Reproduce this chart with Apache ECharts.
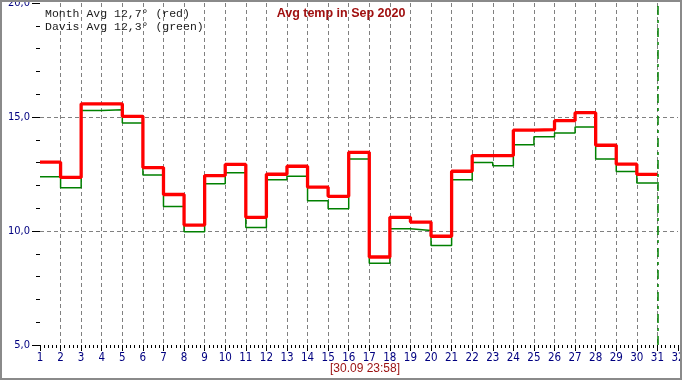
<!DOCTYPE html>
<html>
<head>
<meta charset="utf-8">
<script src="https://cdn.jsdelivr.net/npm/echarts@6/dist/echarts.min.js"></script>
<style>
html,body{margin:0;padding:0;background:#fff;}
#c{width:682px;height:380px;}
</style>
</head>
<body>
<div id="c"></div>
<script>
const days = [1,2,3,4,5,6,7,8,9,10,11,12,13,14,15,16,17,18,19,20,21,22,23,24,25,26,27,28,29,30];
const monthAvg = [13.02,12.35,15.58,15.58,15.03,12.78,11.60,10.26,12.43,12.92,
                  10.60,12.49,12.84,11.92,11.52,13.45,8.86,10.60,10.39,9.77,
                  12.62,13.31,13.31,14.42,14.45,14.84,15.19,13.76,12.93,12.48];
const davisAvg = [12.38,11.90,15.28,15.32,14.74,12.46,11.07,9.97,12.07,12.55,
                  10.15,12.25,12.40,11.33,10.98,13.16,8.59,10.10,10.02,9.36,
                  12.25,13.00,12.86,13.78,14.13,14.30,14.56,13.16,12.61,12.11];
const titleText = 'Avg temp in Sep 2020';
const stampText = '[30.09 23:58]';
const markerDay = 31;
const yTicks = [5, 20, 5]; // min, max, interval

function avg(a){ return a.reduce((s,v)=>s+v,0)/a.length; }
function fmt(v){ return v.toFixed(1).replace('.', ','); }
function stepData(vals){
  const d = days.map((x,i)=>[x, vals[i]]);
  d.push([days[days.length-1]+1, vals[vals.length-1]]);
  return d;
}

const narrow = '"Liberation Sans Narrow","Arial Narrow","DejaVu Sans Condensed",sans-serif';
const chart = echarts.init(document.getElementById('c'), null, {renderer:'canvas'});
chart.setOption({
  animation:false,
  backgroundColor:'#fff',
  title:{
    text:titleText, left:'center', top:2,
    textStyle:{fontFamily:'"Liberation Sans",Arial,sans-serif', fontSize:12.5, fontWeight:'bold', color:'#a01010'}
  },
  grid:{left:40, right:4, top:3, bottom:35, containLabel:false, outerBoundsMode:'none'},
  xAxis:{
    type:'value', min:1, max:32, interval:1,
    axisLine:{show:false},
    axisTick:{show:true, length:6, lineStyle:{color:'#000', width:1}},
    minorTick:{show:true, splitNumber:5, length:3, lineStyle:{color:'#000', width:1}},
    axisLabel:{color:'#000080', fontFamily:narrow, fontSize:11.5, margin:7, showMaxLabel:true},
    splitLine:{show:true, showMinLine:false, showMaxLine:false, lineStyle:{color:'#808080', type:[4,3], width:1}},
    minorSplitLine:{show:false}
  },
  yAxis:{
    type:'value', min:yTicks[0], max:yTicks[1], interval:yTicks[2],
    axisLine:{show:false},
    axisTick:{show:true, length:8, lineStyle:{color:'#000', width:1}},
    minorTick:{show:true, splitNumber:5, length:4, lineStyle:{color:'#000', width:1}},
    axisLabel:{color:'#000080', fontFamily:narrow, fontSize:11, margin:10, formatter:v=>fmt(v)},
    splitLine:{show:true, showMinLine:false, showMaxLine:false, lineStyle:{color:'#808080', type:[4,3], width:1}},
    name:'°C', nameLocation:'middle', nameGap:30, nameRotate:90,
    nameTextStyle:{color:'#8b0000', fontFamily:'"Liberation Sans",Arial,sans-serif', fontSize:11}
  },
  series:[
    {
      type:'line', step:'end', data:stepData(davisAvg), symbol:'none', z:2,
      lineStyle:{color:'#008000', width:1.5},
      markLine:{
        silent:true, symbol:'none', label:{show:false},
        lineStyle:{color:'#008000', width:1.5, type:[9,5,3,5]},
        data:[{xAxis:markerDay}]
      }
    },
    {
      type:'line', step:'end', data:stepData(monthAvg), symbol:'none', z:3,
      lineStyle:{color:'#ff0000', width:3.3}
    }
  ],
  graphic:[
    {type:'rect', shape:{x:1, y:1, width:680, height:378}, style:{fill:'none', stroke:'#8a8a8a', lineWidth:2}, z:100},
    {type:'text', left:45, top:8, style:{text:'Month Avg ' + fmt(avg(monthAvg)) + '° (red)', font:'11.5px "Liberation Mono","Courier New",monospace', fill:'#1a1a1a'}, z:100},
    {type:'text', left:45, top:21, style:{text:'Davis Avg ' + fmt(avg(davisAvg)) + '° (green)', font:'11.5px "Liberation Mono","Courier New",monospace', fill:'#1a1a1a'}, z:100},
    {type:'text', x:365, y:369, style:{text:stampText, font:'12px "Liberation Sans",Arial,sans-serif', fill:'#9a1010', align:'center', verticalAlign:'middle'}, z:100}
  ]
});
</script>
</body>
</html>
